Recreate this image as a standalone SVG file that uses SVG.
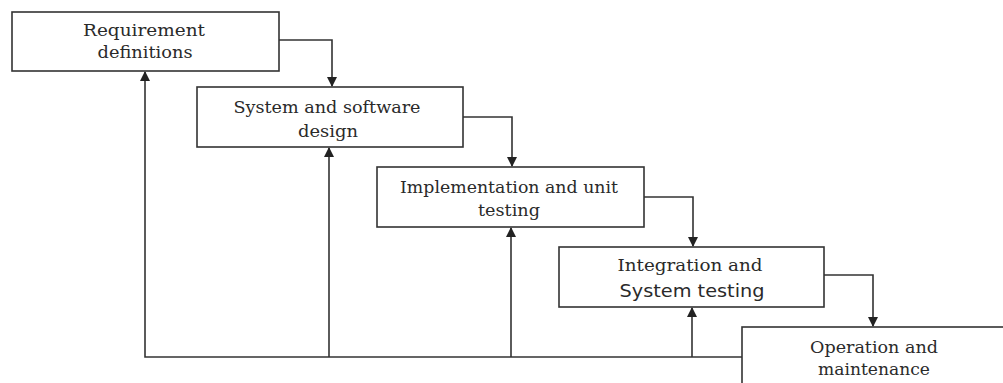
<svg xmlns="http://www.w3.org/2000/svg" width="1003" height="383" viewBox="0 0 1003 383">
<style>
.box{fill:#fff;stroke:#333;stroke-width:1.6}
.t{font-family:"DejaVu Serif","Liberation Serif",serif;font-size:16.5px;fill:#2a2a2a;text-anchor:middle}
.s{font-family:"DejaVu Sans","Liberation Sans",sans-serif;font-size:17px;fill:#2a2a2a;text-anchor:middle}
.c{fill:none;stroke:#333;stroke-width:1.6}
</style>
<defs>
<marker id="ah" markerUnits="userSpaceOnUse" markerWidth="10" markerHeight="11" refX="9" refY="5" orient="auto">
<path d="M0,0 L10,5 L0,10 Z" fill="#222"/>
</marker>
</defs>
<rect width="1003" height="383" fill="#fff"/>
<g id="connectors">
<path class="c" d="M279,40 H332 V86" marker-end="url(#ah)"/>
<path class="c" d="M463,117 H512 V166" marker-end="url(#ah)"/>
<path class="c" d="M644,197 H693 V246" marker-end="url(#ah)"/>
<path class="c" d="M824,275 H873 V326" marker-end="url(#ah)"/>
<path class="c" d="M742,357 H145 V72" marker-end="url(#ah)"/>
<path class="c" d="M329,357 V148" marker-end="url(#ah)"/>
<path class="c" d="M511,357 V228" marker-end="url(#ah)"/>
<path class="c" d="M692,357 V308" marker-end="url(#ah)"/>
</g>
<g id="n1">
<rect class="box" x="12" y="12" width="267" height="59"/>
<text class="t" x="144" y="36" textLength="122" lengthAdjust="spacingAndGlyphs">Requirement</text>
<text class="t" x="145" y="58" textLength="95" lengthAdjust="spacingAndGlyphs">definitions</text>
</g>
<g id="n2">
<rect class="box" x="197" y="87" width="266" height="60"/>
<text class="t" x="327" y="113" textLength="187" lengthAdjust="spacingAndGlyphs">System and software</text>
<text class="t" x="328" y="137" textLength="60" lengthAdjust="spacingAndGlyphs">design</text>
</g>
<g id="n3">
<rect class="box" x="377" y="167" width="267" height="60"/>
<text class="t" x="509" y="193" textLength="218" lengthAdjust="spacingAndGlyphs">Implementation and unit</text>
<text class="t" x="509" y="216" textLength="62" lengthAdjust="spacingAndGlyphs">testing</text>
</g>
<g id="n4">
<rect class="box" x="559" y="247" width="265" height="60"/>
<text class="t" x="690" y="271" textLength="145" lengthAdjust="spacingAndGlyphs">Integration and</text>
<text class="s" x="692" y="297" textLength="145" lengthAdjust="spacingAndGlyphs">System testing</text>
</g>
<g id="n5">
<rect class="box" x="742" y="327" width="280" height="80"/>
<text class="t" x="874" y="353" textLength="128" lengthAdjust="spacingAndGlyphs">Operation and</text>
<text class="t" x="874" y="375" textLength="112" lengthAdjust="spacingAndGlyphs">maintenance</text>
</g>
</svg>
